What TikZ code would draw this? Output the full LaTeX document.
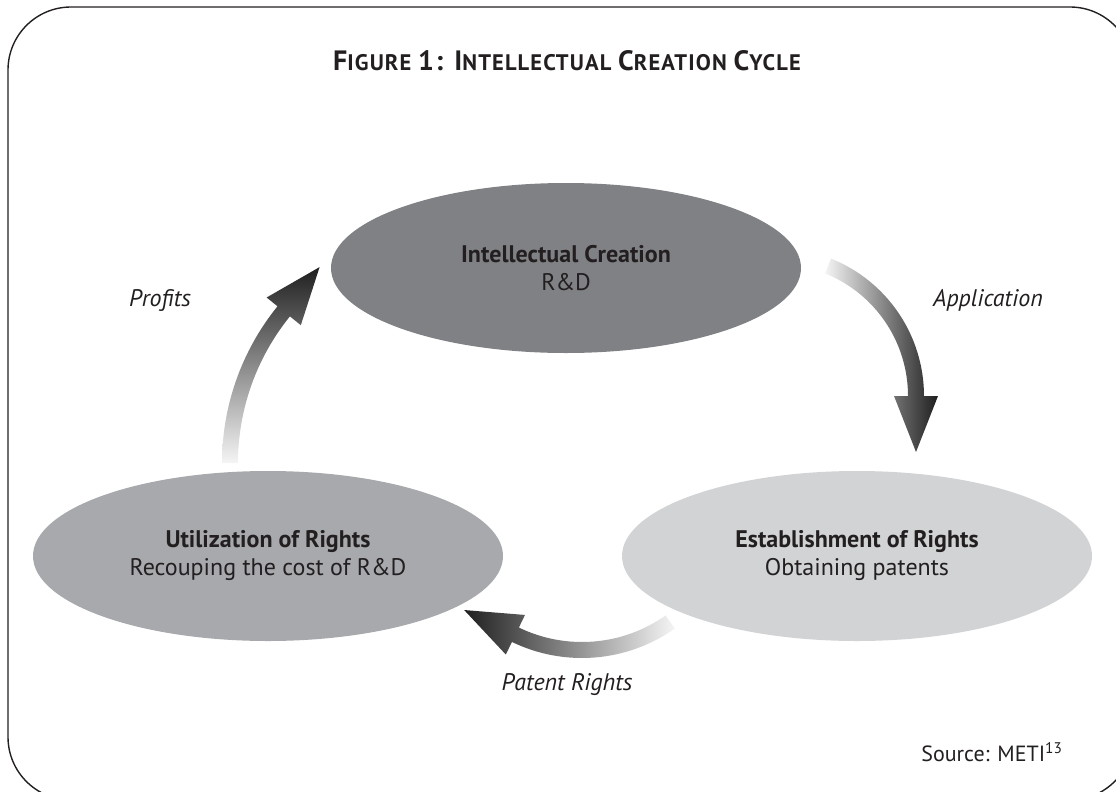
\documentclass[tikz,border=0pt]{standalone}
\usepackage{fontspec}
\setmainfont{PT Sans}
\newfontfamily\titlefont[LetterSpace=5]{PT Sans}
\usepackage{xcolor}
\usepackage{tikz}
\usetikzlibrary{shapes.geometric,calc}

\definecolor{ink}{HTML}{231F20}
\definecolor{creationgray}{HTML}{808184}
\definecolor{utilgray}{HTML}{A7A9AC}
\definecolor{rightsgray}{HTML}{D1D3D4}

\newcommand{\capsz}{\fontsize{28}{28}\selectfont}
\newcommand{\scsz}{\fontsize{22.5}{28}\selectfont}

\begin{document}
\begin{tikzpicture}[x=1pt, y=-1pt,
    every node/.style={text=ink, font=\fontsize{24}{28}\selectfont},
    phase/.style={ellipse, minimum width=470pt, minimum height=170pt, inner sep=0pt, align=center},
    flowlabel/.style={font=\fontsize{24}{28}\selectfont\itshape}]
  \useasboundingbox (0,0) rectangle (1116,792);
  \clip (0,0) rectangle (1116,792);
  \draw[ink, line width=1.4pt, rounded corners=63pt] (8,7) rectangle (1133,800);

  \node (title) at (567,61) {\titlefont\bfseries\capsz F\scsz IGURE \capsz 1: I\scsz NTELLECTUAL
    \capsz C\scsz REATION \capsz C\scsz YCLE};

  \node[phase, fill=creationgray] (creation) at (566,268)
    {\textbf{Intellectual Creation}\\R\&D};
  \node[phase, fill=utilgray] (utilization) at (268,556)
    {\textbf{Utilization of Rights}\\Recouping the cost of R\&D};
  \node[phase, fill=rightsgray] (establishment) at (857,556)
    {\textbf{Establishment of Rights}\\Obtaining patents};

  % arc centres of the three arrows
  \coordinate (cprofit) at (471,463);
  \coordinate (capply) at (776,396);
  \coordinate (cpatent) at (582,497);

  \shade[bottom color=black!4, top color=black!88]
    ($(cprofit)+(180:249)$) arc[start angle=180, end angle=219, radius=249]
    -- ($(cprofit)+(219:263)$) -- ($(cprofit)+(232.3:247.6)$)
    -- ($(cprofit)+(219:219)$) -- ($(cprofit)+(219:233)$)
    arc[start angle=219, end angle=180, radius=233] -- cycle;
  \shade[left color=black!4, right color=black!88]
    ($(capply)+(-68.2:148)$) arc[start angle=-68.2, end angle=0, radius=148]
    -- ($(capply)+(0:162)$) -- ($(capply)+(21.8:150.8)$)
    -- ($(capply)+(0:118)$) -- ($(capply)+(0:132)$)
    arc[start angle=0, end angle=-68.2, radius=132] -- cycle;
  \shade[left color=black!88, right color=black!4]
    ($(cpatent)+(54.8:161)$) arc[start angle=54.8, end angle=115.8, radius=161]
    -- ($(cpatent)+(115.8:175)$) -- ($(cpatent)+(136.2:163.3)$)
    -- ($(cpatent)+(115.8:131)$) -- ($(cpatent)+(115.8:145)$)
    arc[start angle=115.8, end angle=54.8, radius=145] -- cycle;

  \node[flowlabel] (profits) at (160,300) {Profits};
  \node[flowlabel] (application) at (988,300) {Application};
  \node[flowlabel] (patentrights) at (567,685) {Patent Rights};
  \node[anchor=east, font=\fontsize{22}{26}\selectfont] (source) at (1066,752)
    {Source: METI\textsuperscript{13}};
\end{tikzpicture}
\end{document}
